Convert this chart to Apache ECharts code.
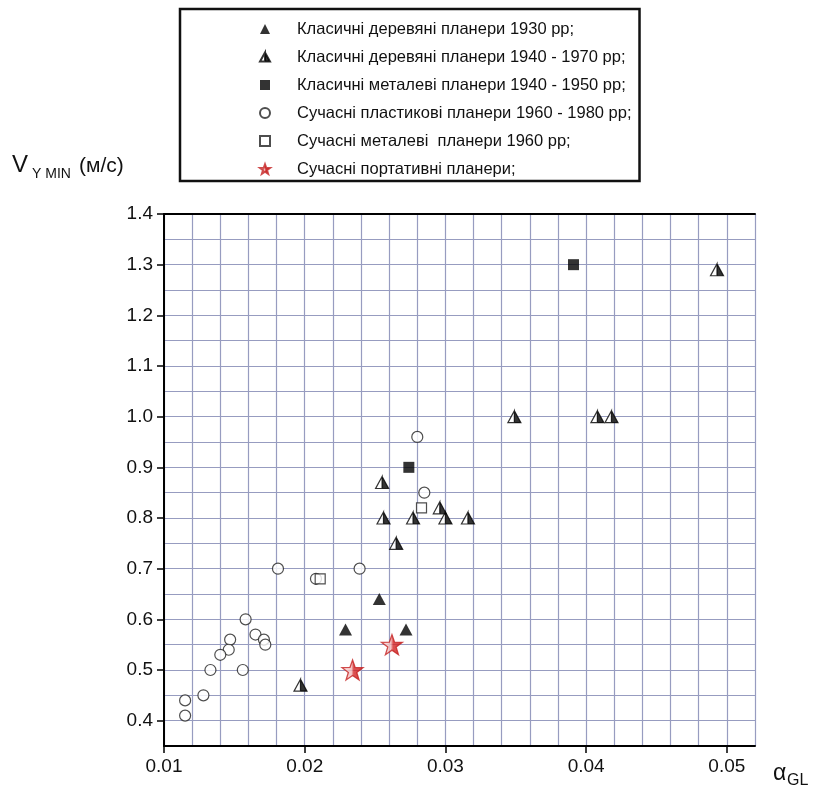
<!DOCTYPE html>
<html>
<head>
<meta charset="utf-8">
<script src="https://cdn.jsdelivr.net/npm/echarts@6/dist/echarts.min.js"></script>
<style>
  html, body { margin: 0; padding: 0; background: #fff; }
  #chart { width: 814px; height: 796px; }
</style>
</head>
<body>
<div id="chart"></div>
<script>
// ---- data ----
const xTickValues = [0.01, 0.02, 0.03, 0.04, 0.05];
const yTickValues = [0.4, 0.5, 0.6, 0.7, 0.8, 0.9, 1.0, 1.1, 1.2, 1.3, 1.4];
const seriesNames = [
  'Класичні деревяні планери 1930 рр;',
  'Класичні деревяні планери 1940 - 1970 рр;',
  'Класичні металеві планери 1940 - 1950 рр;',
  'Сучасні пластикові планери 1960 - 1980 рр;',
  'Сучасні металеві  планери 1960 рр;',
  'Сучасні портативні планери;'
];
const wood1930 = [[0.0229, 0.58], [0.0272, 0.58], [0.0253, 0.64]];
const wood1940 = [
  [0.0197, 0.47], [0.0265, 0.75], [0.0256, 0.80], [0.0277, 0.80], [0.0300, 0.80],
  [0.0316, 0.80], [0.0296, 0.82], [0.0255, 0.87], [0.0349, 1.00], [0.0408, 1.00],
  [0.0418, 1.00], [0.0493, 1.29]
];
const metal1940 = [[0.0274, 0.90], [0.0391, 1.30]];
const plastic1960 = [
  [0.0181, 0.70], [0.0239, 0.70], [0.0158, 0.60], [0.0165, 0.57], [0.0171, 0.56],
  [0.0172, 0.55], [0.0147, 0.56], [0.0146, 0.54], [0.0140, 0.53], [0.0133, 0.50],
  [0.0156, 0.50], [0.0128, 0.45], [0.0115, 0.44], [0.0115, 0.41], [0.0208, 0.68],
  [0.0280, 0.96], [0.0285, 0.85]
];
const metal1960 = [[0.0211, 0.68], [0.0283, 0.82]];
const portable = [[0.0234, 0.50], [0.0262, 0.55]];

// ---- chart ----
const FONT = '"Liberation Sans", Arial, sans-serif';
const GRIDC = '#979cc0';
const halfTri = 'path://M5,0L10,9L0,9ZM5,0L0,9L5,9Z';
const star = 'path://M50,0L61.76,33.82L97.55,34.55L69.02,56.18L79.39,90.45L50,70L20.61,90.45L30.98,56.18L2.45,34.55L38.24,33.82Z';

const chart = echarts.init(document.getElementById('chart'), null, { renderer: 'canvas' });
const hiddenAxisParts = { axisLine: { show: false }, axisTick: { show: false }, axisLabel: { show: false } };
const option = {
  backgroundColor: '#fff',
  animation: false,
  textStyle: { fontFamily: FONT },
  grid: { left: 164, right: 59, top: 214, bottom: 50, containLabel: false },
  legend: {
    orient: 'vertical',
    left: 180,
    top: 9,
    padding: [11, 8, 3, 79],
    itemGap: 10,
    itemWidth: 10,
    itemHeight: 10,
    borderColor: '#111',
    borderWidth: 2.5,
    backgroundColor: '#fff',
    selectedMode: false,
    data: seriesNames,
    textStyle: { fontFamily: FONT, fontSize: 16.5, color: '#111', lineHeight: 18, padding: [0, 0, 0, 22] }
  },
  xAxis: [
    {
      type: 'value', position: 'bottom', min: 0.01, max: 0.052, interval: 0.002,
      axisLine: { show: true, onZero: false, lineStyle: { color: '#000', width: 2 } },
      axisTick: { show: true, inside: false, length: 7, customValues: xTickValues, lineStyle: { color: '#000', width: 1.5 } },
      axisLabel: { customValues: xTickValues, formatter: v => v.toFixed(2), fontSize: 19, color: '#111', margin: 11, fontFamily: FONT },
      splitLine: { show: false }, z: 3
    },
    {
      type: 'value', position: 'top', min: 0.01, max: 0.052, interval: 0.002,
      axisLine: { show: true, onZero: false, lineStyle: { color: '#000', width: 2 } },
      axisTick: { show: false }, axisLabel: { show: false }, splitLine: { show: false }, z: 3
    },
    Object.assign({
      type: 'value', position: 'bottom', min: 0.01, max: 0.052, interval: 0.002,
      splitLine: { show: true, lineStyle: { color: GRIDC, width: 1.2 } }, z: 0
    }, hiddenAxisParts)
  ],
  yAxis: [
    {
      type: 'value', min: 0.35, max: 1.4, interval: 0.05, position: 'left',
      axisLine: { show: true, onZero: false, lineStyle: { color: '#000', width: 2 } },
      axisTick: { show: true, inside: false, length: 7, customValues: yTickValues, lineStyle: { color: '#000', width: 1.5 } },
      axisLabel: { customValues: yTickValues, formatter: v => v.toFixed(1), fontSize: 19, color: '#111', margin: 11, fontFamily: FONT },
      splitLine: { show: false }, z: 3
    },
    Object.assign({
      type: 'value', min: 0.35, max: 1.4, interval: 0.05, position: 'left',
      splitLine: { show: true, lineStyle: { color: GRIDC, width: 1.2 } }, z: 0
    }, hiddenAxisParts)
  ],
  graphic: [
    { type: 'text', left: 12, top: 153, style: { text: 'V', font: '24px ' + FONT, fill: '#111' } },
    { type: 'text', left: 32, top: 167, style: { text: 'Y MIN', font: '14px ' + FONT, fill: '#111' } },
    { type: 'text', left: 79, top: 156, style: { text: '(м/с)', font: '21px ' + FONT, fill: '#111' } },
    { type: 'text', left: 773, top: 762, style: { text: 'α', font: '23px ' + FONT, fill: '#111' } },
    { type: 'text', left: 787, top: 773, style: { text: 'GL', font: '16px ' + FONT, fill: '#111' } }
  ],
  series: [
    {
      name: seriesNames[0], type: 'scatter', data: wood1930, symbol: 'triangle', symbolSize: [13, 12],
      itemStyle: { color: '#000' }, z: 5
    },
    {
      name: 'bg-half', type: 'scatter', data: wood1940, symbol: 'triangle', symbolSize: [13, 12],
      itemStyle: { color: '#fff' }, silent: true, z: 4
    },
    {
      name: seriesNames[1], type: 'scatter', data: wood1940, symbol: halfTri, symbolSize: [13, 12],
      itemStyle: { color: '#000', borderColor: '#000', borderWidth: 1.2 }, z: 5
    },
    {
      name: seriesNames[2], type: 'scatter', data: metal1940, symbol: 'rect', symbolSize: 11,
      itemStyle: { color: '#000' }, z: 5
    },
    {
      name: seriesNames[3], type: 'scatter', data: plastic1960, symbol: 'circle', symbolSize: 11,
      itemStyle: { color: '#fff', borderColor: '#222', borderWidth: 1.2 }, z: 5
    },
    {
      name: seriesNames[4], type: 'scatter', data: metal1960, symbol: 'rect', symbolSize: 10,
      itemStyle: { color: '#fff', borderColor: '#222', borderWidth: 1.2 }, z: 6
    },
    {
      name: seriesNames[5], type: 'scatter', data: portable, symbol: star, symbolSize: [21, 20],
      itemStyle: {
        color: { type: 'linear', x: 0, y: 0, x2: 1, y2: 0, colorStops: [
          { offset: 0, color: '#fde8e8' }, { offset: 0.45, color: '#f2b8b8' },
          { offset: 0.55, color: '#d42424' }, { offset: 1, color: '#c81a1a' } ] },
        borderColor: '#c42020', borderWidth: 1.3
      }, z: 7
    }
  ]
};
chart.setOption(option);
</script>
</body>
</html>
